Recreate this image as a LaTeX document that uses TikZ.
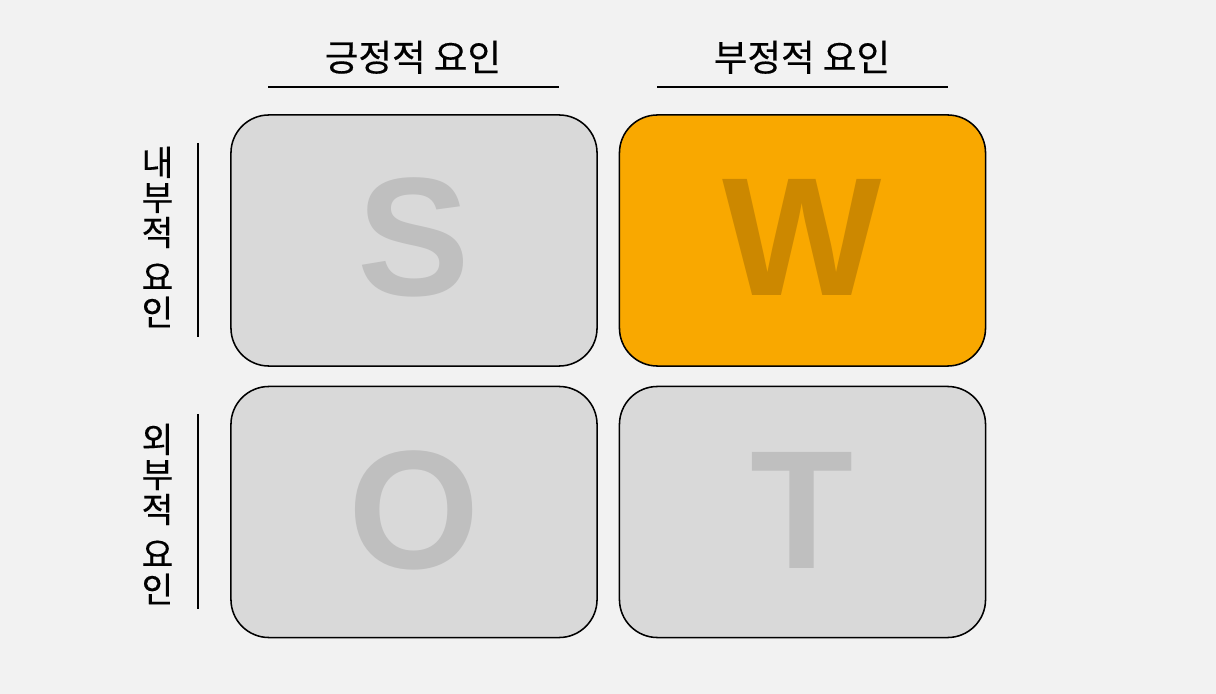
\documentclass[tikz,border=0pt]{standalone}
\usepackage{fontspec}
\newfontfamily\kr{Noto Sans CJK KR}[FakeBold=0.4]
\newfontfamily\latb{Liberation Sans}[BoldFont={Liberation Sans Bold}]
\definecolor{bg}{HTML}{F2F2F2}
\definecolor{boxgray}{HTML}{D9D9D9}
\definecolor{lettergray}{HTML}{BFBFBF}
\definecolor{orangebox}{HTML}{F9A800}
\definecolor{orangeletter}{HTML}{CC8800}
\tikzset{
  quad/.style={draw=black, line width=1.1pt, rounded corners=0.95cm,
    minimum width=9.15cm, minimum height=6.275cm, inner sep=0pt},
  bigletter/.style={font=\latb\bfseries\fontsize{120}{120}\selectfont, inner sep=0pt, anchor=base},
  header/.style={font=\kr\fontsize{26}{26}\selectfont, inner sep=0pt, anchor=base},
  sidehead/.style={font=\kr\fontsize{24.5}{24.9}\selectfont, inner sep=0pt, align=center},
  rule/.style={line width=1.5pt}
}
\begin{document}
\begin{tikzpicture}[x=0.025cm, y=-0.025cm]
\fill[bg] (0,0) rectangle (1216,694);
\useasboundingbox (0,0) rectangle (1216,694);

% boxes
\node[quad, fill=boxgray] (S) at (414,240.5) {};
\node[quad, fill=orangebox] (W) at (802.5,240.5) {};
\node[quad, fill=boxgray] (O) at (414,512) {};
\node[quad, fill=boxgray] (T) at (802.5,512) {};

% letters
\node[bigletter, text=lettergray] (Sl) at (414,296) {S};
\node[bigletter, text=orangeletter] (Wl) at (802.5,296) {W};
\node[bigletter, text=lettergray] (Ol) at (414,568) {O};
\node[bigletter, text=lettergray] (Tl) at (802.5,568) {T};

% column headers
\node[header] (pos) at (413,71) {긍정적 요인};
\node[header] (neg) at (802,71) {부정적 요인};
\coordinate (p1) at (268,87);
\coordinate (p2) at (559,87);
\coordinate (n1) at (657,87);
\coordinate (n2) at (948,87);
\draw[rule] (p1) -- (p2);
\draw[rule] (n1) -- (n2);

% row headers
\node[sidehead] (int) at (157.5,237) {내\\부\\적\\[7pt]요\\인};
\node[sidehead] (ext) at (157.5,514) {외\\부\\적\\[7pt]요\\인};
\coordinate (i1) at (198,143);
\coordinate (i2) at (198,337);
\coordinate (e1) at (198,414);
\coordinate (e2) at (198,609);
\draw[rule] (i1) -- (i2);
\draw[rule] (e1) -- (e2);
\end{tikzpicture}
\end{document}
